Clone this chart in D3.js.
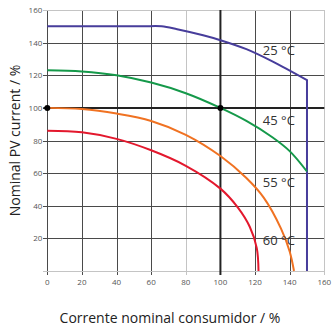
<!DOCTYPE html>
<html>
<head>
  <meta charset="utf-8">
  <script src="https://d3js.org/d3.v7.min.js"></script>
  <style>
    body { margin: 0; background: #fff; }
    svg { display: block; font-family: "Open Sans", "Noto Sans", sans-serif; }
    .tick-label { font-size: 8px; fill: #555; }
    .grid { stroke: #4a4a4a; stroke-width: 1px; shape-rendering: crispEdges; }
    .grid.light { stroke: #c4c4c4; }
    .ref { stroke: #222; stroke-width: 2px; }
    .curve { fill: none; stroke-width: 2px; }
    .temp { font-size: 13px; fill: #333; }
    .axis-title { font-size: 14px; fill: #222; }
  </style>
</head>
<body>
  <svg></svg>
  <script>
    // ticks
    var xTicks = [0, 20, 40, 60, 80, 100, 120, 140, 160];
    var yTicks = [20, 40, 60, 80, 100, 120, 140, 160];

    // curves: [load %, PV current %]
    var blue25 = [[0, 150], [30, 150], [55, 150], [66, 150], [75, 148.2], [90, 144.5], [100, 141.5], [115, 136], [130, 128.5], [150, 117], [150, 0]];
    var green45 = [[0, 123], [20, 122.3], [40, 120], [60, 115.5], [80, 109], [100, 100], [115, 92], [130, 82], [140, 73.5], [150, 61]];
    var orange55 = [[0, 100], [20, 99.3], [40, 96.5], [60, 92], [80, 83.5], [100, 70.5], [115, 57], [125, 45], [135, 26], [140, 12], [142.5, 0]];
    var red60 = [[0, 86], [20, 85], [40, 81], [60, 74], [80, 64.5], [100, 50.5], [110, 39], [117, 27], [121, 14], [122, 0]];

    var series = [
      { name: "25 °C", color: "#473d9b", pts: blue25, label: [124.5, 132.5] },
      { name: "45 °C", color: "#15994a", pts: green45, label: [124.5, 89.5] },
      { name: "55 °C", color: "#f07222", pts: orange55, label: [124.5, 51.5] },
      { name: "60 °C", color: "#e3182d", pts: red60, label: [124.5, 16] }
    ];
    var refPoints = [[0, 100], [100, 100]];

    var W = 333, H = 327;
    var svg = d3.select("svg").attr("width", W).attr("height", H);

    var x = d3.scaleLinear().domain([0, 160]).range([47.3, 324.3]);
    var y = d3.scaleLinear().domain([0, 160]).range([271, 10]);

    var g = svg.append("g");

    // grid
    g.selectAll(".vgrid").data(xTicks).enter().append("line")
      .attr("class", function (d) { return "grid" + (d == 160 || d == 80 ? " light" : ""); })
      .attr("x1", function (d) { return Math.round(x(d)) + 0.5; })
      .attr("x2", function (d) { return Math.round(x(d)) + 0.5; })
      .attr("y1", y(160)).attr("y2", y(0) + 4);
    g.selectAll(".hgrid").data([0].concat(yTicks)).enter().append("line")
      .attr("class", function (d) { return "grid" + (d == 160 || d == 0 ? " light" : ""); })
      .attr("y1", function (d) { return Math.round(y(d)) + 0.5; })
      .attr("y2", function (d) { return Math.round(y(d)) + 0.5; })
      .attr("x1", x(0) - 4).attr("x2", x(160));

    // reference lines at 100 %
    g.append("line").attr("class", "ref")
      .attr("x1", x(100)).attr("x2", x(100)).attr("y1", y(160)).attr("y2", y(0) + 4);
    g.append("line").attr("class", "ref")
      .attr("y1", y(100)).attr("y2", y(100)).attr("x1", x(0) - 4).attr("x2", x(160));

    // tick labels
    g.selectAll(".xl").data(xTicks).enter().append("text")
      .attr("class", "tick-label")
      .attr("x", function (d) { return x(d); })
      .attr("y", y(0) + 14)
      .attr("text-anchor", "middle")
      .text(function (d) { return d; });
    g.selectAll(".yl").data(yTicks).enter().append("text")
      .attr("class", "tick-label")
      .attr("x", x(0) - 5)
      .attr("y", function (d) { return y(d) + 3; })
      .attr("text-anchor", "end")
      .text(function (d) { return d; });

    // curves
    var line = d3.line()
      .x(function (d) { return x(d[0]); })
      .y(function (d) { return y(d[1]); })
      .curve(d3.curveCatmullRom.alpha(0.5));

    series.forEach(function (s) {
      var pts = s.pts, d;
      var last = pts[pts.length - 1], prev = pts[pts.length - 2];
      if (last[0] == prev[0]) {
        // vertical drop at the end
        d = line(pts.slice(0, -1)) + "L" + x(last[0]) + "," + y(last[1]);
      } else {
        d = line(pts);
      }
      g.append("path").attr("class", "curve").attr("d", d).style("stroke", s.color);
    });

    // temperature labels
    g.selectAll(".temp").data(series).enter().append("text")
      .attr("class", "temp")
      .attr("x", function (d) { return x(d.label[0]); })
      .attr("y", function (d) { return y(d.label[1]); })
      .text(function (d) { return d.name; });

    // dots
    g.selectAll(".dot").data(refPoints).enter().append("circle")
      .attr("cx", function (d) { return x(d[0]); })
      .attr("cy", function (d) { return y(d[1]); })
      .attr("r", 3)
      .style("fill", "#000");

    // axis titles
    svg.append("text").attr("class", "axis-title")
      .attr("transform", "translate(20," + y(80) + ") rotate(-90)")
      .attr("text-anchor", "middle")
      .text("Nominal PV current / %");
    svg.append("text").attr("class", "axis-title")
      .attr("x", 170).attr("y", 323)
      .attr("text-anchor", "middle")
      .text("Corrente nominal consumidor / %");
  </script>
</body>
</html>
